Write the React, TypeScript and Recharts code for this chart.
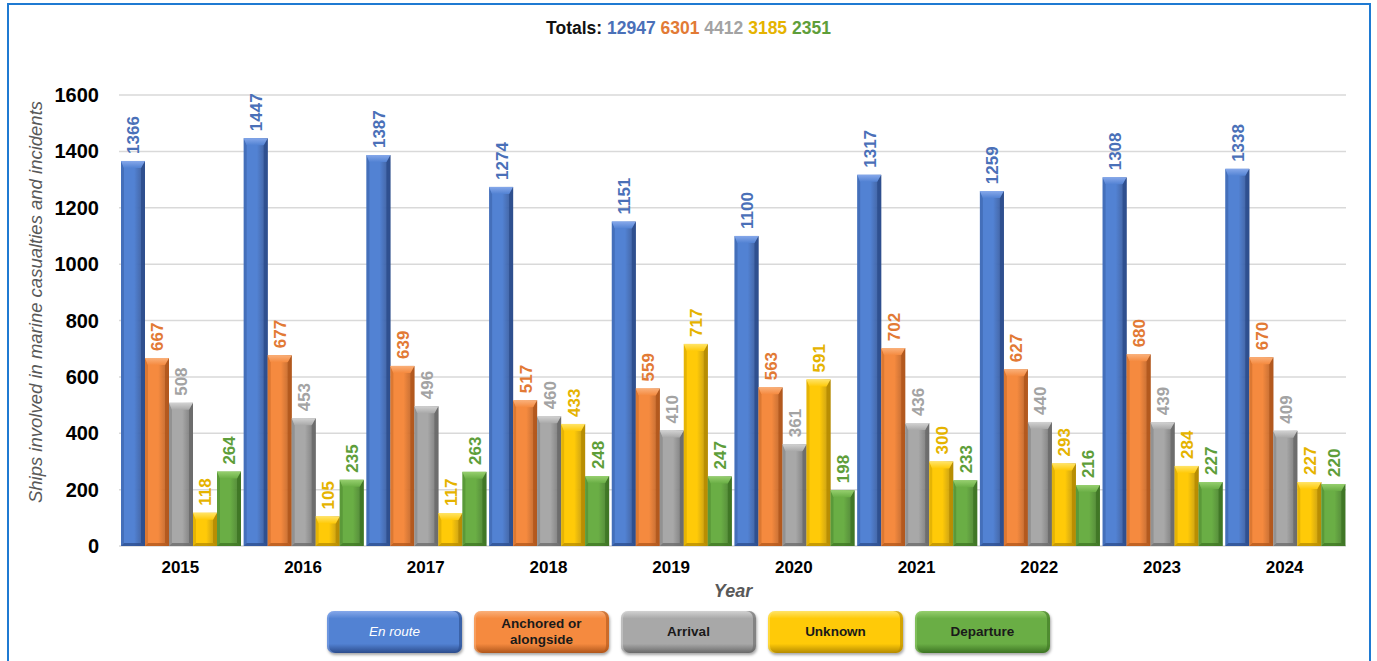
import React from 'react';
import { BarChart, Bar, XAxis, YAxis, CartesianGrid, LabelList } from 'recharts';

// Ships involved in marine casualties and incidents, by phase of voyage
const years = ['2015', '2016', '2017', '2018', '2019', '2020', '2021', '2022', '2023', '2024'];
const enRoute = [1366, 1447, 1387, 1274, 1151, 1100, 1317, 1259, 1308, 1338];
const anchored = [667, 677, 639, 517, 559, 563, 702, 627, 680, 670];
const arrival = [508, 453, 496, 460, 410, 361, 436, 440, 439, 409];
const unknown = [118, 105, 117, 433, 717, 591, 300, 293, 284, 227];
const departure = [264, 235, 263, 248, 247, 198, 233, 216, 227, 220];
const yTicks = [0, 200, 400, 600, 800, 1000, 1200, 1400, 1600];

const FONT = '"Liberation Sans", Arial, Helvetica, sans-serif';

type Series = {
  key: string;
  name: string;
  values: number[];
  base: string;
  light: string;
  dark: string;
  text: string;
  legendText: string;
  italic?: boolean;
};

const series: Series[] = [
  { key: 'enRoute', name: 'En route', values: enRoute, base: '#5282D3', light: '#86A8EA', dark: '#2C4C8C', text: '#4A70B8', legendText: '#FFFFFF', italic: true },
  { key: 'anchored', name: 'Anchored or alongside', values: anchored, base: '#F58A3F', light: '#FAB07A', dark: '#B0561B', text: '#E27A35', legendText: '#1A1A1A' },
  { key: 'arrival', name: 'Arrival', values: arrival, base: '#A8A8A8', light: '#D2D2D2', dark: '#6A6A6A', text: '#A3A3A3', legendText: '#1A1A1A' },
  { key: 'unknown', name: 'Unknown', values: unknown, base: '#FFCA08', light: '#FFE468', dark: '#B58B00', text: '#E5B300', legendText: '#1A1A1A' },
  { key: 'departure', name: 'Departure', values: departure, base: '#6AAE45', light: '#96CF6E', dark: '#3D7423', text: '#5E9E3A', legendText: '#1A1A1A' },
];

const data = years.map((year, i) => {
  const row: Record<string, string | number> = { year };
  series.forEach((s) => {
    row[s.key] = s.values[i];
  });
  return row;
});

const sum = (arr: number[]) => arr.reduce((a, b) => a + b, 0);

// Bevelled bar: face gradient, lighter top chamfer, darker right and bottom edges
const makeBevelBar = (s: Series) => (props: any) => {
  const { x, y, width, height } = props;
  if (!height || height <= 0) return <g />;
  const b = Math.min(7, height / 2);
  const side = 4;
  return (
    <g>
      <rect x={x} y={y} width={width} height={height} fill={`url(#face-${s.key})`} />
      <polygon
        points={`${x},${y + height} ${x + side - 1},${y + height - 3} ${x + width - side},${y + height - 3} ${x + width},${y + height}`}
        fill={s.dark}
        opacity={0.75}
      />
      <polygon
        points={`${x + width},${y} ${x + width - side},${y + b} ${x + width - side},${y + height - 3} ${x + width},${y + height}`}
        fill={s.dark}
        opacity={0.85}
      />
      <polygon
        points={`${x},${y} ${x + side - 1},${y + b} ${x + side - 1},${y + height - 3} ${x},${y + height}`}
        fill={s.dark}
        opacity={0.35}
      />
      <polygon
        points={`${x},${y} ${x + width},${y} ${x + width - side},${y + b} ${x + side - 1},${y + b}`}
        fill={`url(#top-${s.key})`}
      />
    </g>
  );
};

// Rotated value label sitting just above each bar
const makeValueLabel = (color: string) => (props: any) => {
  const vb = props.viewBox || {};
  const x = props.x ?? vb.x;
  const y = props.y ?? vb.y;
  const width = props.width ?? vb.width;
  const { value } = props;
  const cx = x + width / 2 + 1;
  const ty = y - 7;
  return (
    <text
      x={cx}
      y={ty}
      transform={`rotate(-90 ${cx} ${ty})`}
      fill={color}
      fontSize={17}
      fontWeight={700}
      fontFamily={FONT}
      textAnchor="start"
      dominantBaseline="central"
    >
      {value}
    </text>
  );
};

const YTick = (props: any) => {
  const { x, y, payload } = props;
  return (
    <text x={x} y={y} textAnchor="end" dominantBaseline="central" fontSize={20} fontWeight={700} fontFamily={FONT} fill="#000">
      {payload.value}
    </text>
  );
};

const XTick = (props: any) => {
  const { x, y, payload } = props;
  return (
    <text x={x} y={y + 15} textAnchor="middle" fontSize={17} fontWeight={700} fontFamily={FONT} fill="#000">
      {payload.value}
    </text>
  );
};

const LegendButtons = () => (
  <div
    style={{
      position: 'absolute',
      left: 327,
      top: 611,
      display: 'flex',
      gap: 12,
      fontFamily: FONT,
    }}
  >
    {series.map((s) => (
      <div
        key={s.key}
        style={{
          width: 135,
          height: 42,
          boxSizing: 'border-box',
          borderRadius: 7,
          background: `linear-gradient(to bottom, ${s.light} 0%, ${s.base} 18%, ${s.base} 78%, ${s.dark} 100%)`,
          boxShadow: `inset -3px 0 0 ${s.dark}99, inset 2px 0 0 ${s.light}88, 1px 2px 3px rgba(0,0,0,0.35)`,
          display: 'flex',
          alignItems: 'center',
          justifyContent: 'center',
          textAlign: 'center',
          color: s.legendText,
          fontSize: 13.5,
          lineHeight: '16px',
          fontWeight: s.italic ? 400 : 700,
          fontStyle: s.italic ? 'italic' : 'normal',
        }}
      >
        {s.key === 'anchored' ? (
          <span>
            Anchored or
            <br />
            alongside
          </span>
        ) : (
          s.name
        )}
      </div>
    ))}
  </div>
);

export default function App() {
  return (
    <div style={{ position: 'absolute', left: 0, top: 0, width: 1377, height: 661, overflow: 'hidden', background: '#fff' }}>
      <div
        style={{
          position: 'absolute',
          left: 7,
          top: 3,
          width: 1360,
          height: 720,
          border: '2px solid #1F7AD2',
          boxSizing: 'content-box',
        }}
      />
      <div
        style={{
          position: 'absolute',
          left: 0,
          top: 18,
          width: 1377,
          textAlign: 'center',
          fontFamily: FONT,
          fontWeight: 700,
          fontSize: 17.5,
          lineHeight: '20px',
        }}
      >
        <span style={{ color: '#111' }}>Totals: </span>
        {series.map((s, i) => (
          <span key={s.key} style={{ color: s.text }}>
            {sum(s.values)}
            {i < series.length - 1 ? ' ' : ''}
          </span>
        ))}
      </div>

      <div style={{ position: 'absolute', left: 0, top: 0 }}>
        <BarChart
          width={1377}
          height={661}
          data={data}
          margin={{ top: 95, right: 31, bottom: 85, left: 0 }}
          barCategoryGap={2}
          barGap={0}
        >
          <defs>
            {series.map((s) => (
              <linearGradient key={`f-${s.key}`} id={`face-${s.key}`} x1="0" y1="0" x2="1" y2="0">
                <stop offset="0%" stopColor={s.base} />
                <stop offset="55%" stopColor={s.base} />
                <stop offset="100%" stopColor={s.dark} stopOpacity={0.9} />
              </linearGradient>
            ))}
            {series.map((s) => (
              <linearGradient key={`t-${s.key}`} id={`top-${s.key}`} x1="0" y1="0" x2="0" y2="1">
                <stop offset="0%" stopColor={s.light} />
                <stop offset="100%" stopColor={s.base} />
              </linearGradient>
            ))}
          </defs>
          <CartesianGrid vertical={false} stroke="#D9D9D9" strokeWidth={1.5} />
          <XAxis
            dataKey="year"
            axisLine={false}
            tickLine={false}
            tickSize={0}
            tickMargin={12}
            height={30}
            tick={<XTick />}
            interval={0}
          />
          <YAxis
            domain={[0, 1600]}
            ticks={yTicks}
            axisLine={false}
            tickLine={false}
            tickSize={0}
            tickMargin={20}
            width={119}
            tick={<YTick />}
            interval={0}
          />
          {series.map((s) => (
            <Bar key={s.key} dataKey={s.key} name={s.name} fill={s.base} isAnimationActive={false} shape={makeBevelBar(s)}>
              <LabelList dataKey={s.key} content={makeValueLabel(s.text)} />
            </Bar>
          ))}
        </BarChart>
      </div>

      <div
        style={{
          position: 'absolute',
          left: 36 - 250,
          top: 302 - 11,
          width: 500,
          height: 22,
          lineHeight: '22px',
          textAlign: 'center',
          transform: 'rotate(-90deg)',
          fontFamily: FONT,
          fontStyle: 'italic',
          fontSize: 18.5,
          color: '#595959',
          whiteSpace: 'nowrap',
        }}
      >
        Ships involved in marine casualties and incidents
      </div>

      <div
        style={{
          position: 'absolute',
          left: 633,
          top: 580,
          width: 200,
          textAlign: 'center',
          fontFamily: FONT,
          fontStyle: 'italic',
          fontWeight: 700,
          fontSize: 18,
          lineHeight: '22px',
          color: '#595959',
        }}
      >
        Year
      </div>

      <LegendButtons />
    </div>
  );
}
